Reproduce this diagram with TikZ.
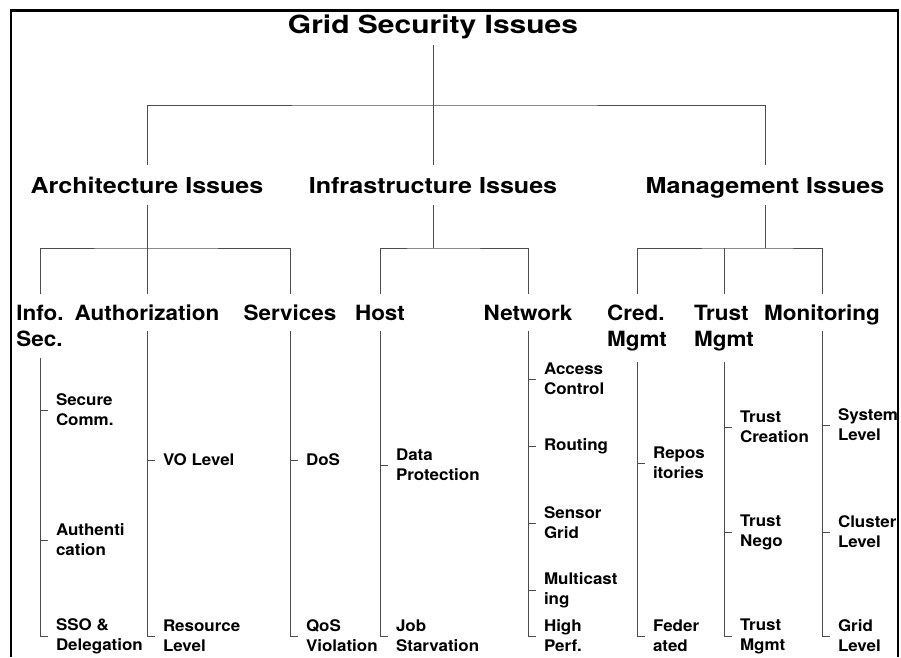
\documentclass[tikz,border=0pt]{standalone}
\usepackage{fontspec}
\setmainfont{TeX Gyre Heros}
\newfontfamily\rootfont{TeX Gyre Heros}[FakeStretch=1.2]
\newfontfamily\issuefont{TeX Gyre Heros}[FakeStretch=1.14]
\newfontfamily\areafont{TeX Gyre Heros}[FakeStretch=1.07]
\newfontfamily\leaffont{TeX Gyre Heros}[FakeStretch=1.06]
\begin{document}
\begin{tikzpicture}[x=1pt,y=-1pt,
  rootlabel/.style={font=\rootfont\bfseries\fontsize{25}{30}\selectfont, inner sep=0pt, text depth=0pt, outer ysep=12pt, anchor=base},
  issuelabel/.style={font=\issuefont\bfseries\fontsize{22}{26}\selectfont, inner sep=0pt, text height=16pt, text depth=0pt, outer ysep=12pt, anchor=base},
  arealabel/.style={font=\areafont\bfseries\fontsize{21}{26}\selectfont, inner sep=0pt, outer ysep=11pt},
  areaone/.style={arealabel, text height=15pt, text depth=0pt, anchor=base},
  areatwo/.style={arealabel, align=left, anchor=north},
  leaflabel/.style={font=\leaffont\bfseries\fontsize{16}{20}\selectfont, inner sep=0pt, outer xsep=8pt, align=left, anchor=west},
  branch/.style={draw=black!70, line width=1pt}]
\useasboundingbox (0,0) rectangle (901,657);
\draw[line width=2.4pt] (11,657) -- (11,10.5) -- (898,10.5) -- (898,657);
\node[rootlabel] (root) at (433,33) {Grid Security Issues};
\node[issuelabel] (arch) at (147,193) {Architecture Issues};
\node[issuelabel] (infra) at (433,193) {Infrastructure Issues};
\node[issuelabel] (mgmt) at (765,193) {Management Issues};
\node[areatwo] (infosec) at (40,294) {Info.\\Sec.};
\node[areaone] (authz) at (147,320) {Authorization};
\node[areaone] (services) at (290,320) {Services};
\node[areaone] (host) at (380,320) {Host};
\node[areaone] (network) at (528,320) {Network};
\node[areatwo] (cred) at (637,294) {Cred.\\Mgmt};
\node[areatwo] (trust) at (724,294) {Trust\\Mgmt};
\node[areaone] (monitor) at (822,320) {Monitoring};
\node[leaflabel] (securecomm) at (48,410) {Secure\\Comm.};
\node[leaflabel] (authent) at (48,540) {Authenti\\cation};
\node[leaflabel] (sso) at (48,636) {SSO \&\\Delegation};
\node[leaflabel] (volevel) at (155,460) {VO Level};
\node[leaflabel] (reslevel) at (155,636) {Resource\\Level};
\node[leaflabel] (dos) at (298,460) {DoS};
\node[leaflabel] (qos) at (298,636) {QoS\\Violation};
\node[leaflabel] (dataprot) at (388,465) {Data\\Protection};
\node[leaflabel] (jobstarv) at (388,636) {Job\\Starvation};
\node[leaflabel] (access) at (536,379) {Access\\Control};
\node[leaflabel] (routing) at (536,446) {Routing};
\node[leaflabel] (sensor) at (536,523) {Sensor\\Grid};
\node[leaflabel] (multicast) at (536,590) {Multicast\\ing};
\node[leaflabel] (highperf) at (536,636) {High\\Perf.};
\node[leaflabel] (repos) at (645,463) {Repos\\itories};
\node[leaflabel] (federated) at (645,636) {Feder\\ated};
\node[leaflabel] (trustcreate) at (732,427) {Trust\\Creation};
\node[leaflabel] (trustnego) at (732,532) {Trust\\Nego};
\node[leaflabel] (trustmgmt) at (732,636) {Trust\\Mgmt};
\node[leaflabel] (syslevel) at (830,425) {System\\Level};
\node[leaflabel] (clusterlevel) at (830,532) {Cluster\\Level};
\node[leaflabel] (gridlevel) at (830,636) {Grid\\Level};
\coordinate (rootbar) at (433,105);
\coordinate (archbar) at (147,248);
\coordinate (infrabar) at (433,248);
\coordinate (mgmtbar) at (765,248);
\draw[branch] (root.south) -- (infra.north);
\draw[branch] (arch.north) |- (rootbar) -| (mgmt.north);
\draw[branch] (arch.south) -- (authz.north);
\draw[branch] (infosec.north) |- (archbar) -| (services.north);
\draw[branch] (infra.south) -- (infrabar);
\draw[branch] (host.north) |- (infrabar) -| (network.north);
\draw[branch] (mgmt.south) -- (mgmtbar);
\draw[branch] (cred.north) |- (mgmtbar) -| (monitor.north);
\draw[branch] (trust.north) -- (trust.north |- mgmtbar);
\draw[branch] (infosec.south) |- (sso.west);
\draw[branch] (securecomm.west) -- (securecomm.west -| infosec.south);
\draw[branch] (authent.west) -- (authent.west -| infosec.south);
\draw[branch] (authz.south) |- (reslevel.west);
\draw[branch] (volevel.west) -- (volevel.west -| authz.south);
\draw[branch] (services.south) |- (qos.west);
\draw[branch] (dos.west) -- (dos.west -| services.south);
\draw[branch] (host.south) |- (jobstarv.west);
\draw[branch] (dataprot.west) -- (dataprot.west -| host.south);
\draw[branch] (network.south) |- (highperf.west);
\draw[branch] (access.west) -- (access.west -| network.south);
\draw[branch] (routing.west) -- (routing.west -| network.south);
\draw[branch] (sensor.west) -- (sensor.west -| network.south);
\draw[branch] (multicast.west) -- (multicast.west -| network.south);
\draw[branch] (cred.south) |- (federated.west);
\draw[branch] (repos.west) -- (repos.west -| cred.south);
\draw[branch] (trust.south) |- (trustmgmt.west);
\draw[branch] (trustcreate.west) -- (trustcreate.west -| trust.south);
\draw[branch] (trustnego.west) -- (trustnego.west -| trust.south);
\draw[branch] (monitor.south) |- (gridlevel.west);
\draw[branch] (syslevel.west) -- (syslevel.west -| monitor.south);
\draw[branch] (clusterlevel.west) -- (clusterlevel.west -| monitor.south);
\end{tikzpicture}
\end{document}
